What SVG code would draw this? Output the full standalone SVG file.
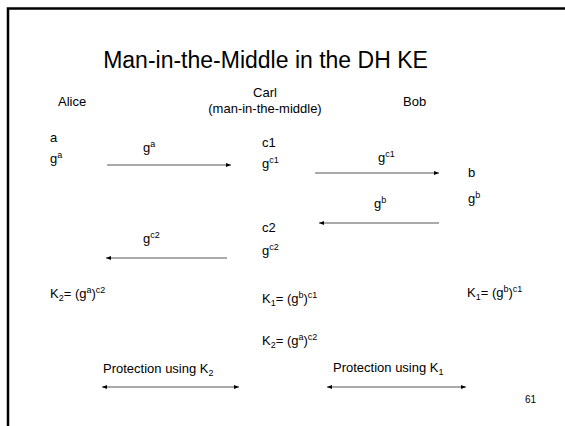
<svg xmlns="http://www.w3.org/2000/svg" width="565" height="426" viewBox="0 0 565 426">
<defs>
<marker id="ah" viewBox="0 0 10 10" refX="10" refY="5" markerWidth="5" markerHeight="5" orient="auto-start-reverse" markerUnits="userSpaceOnUse">
<path d="M0,1 L10,5 L0,9 z" fill="#000"/>
</marker>
</defs>
<style>
text { font-family: "Liberation Sans", Arial, sans-serif; font-size: 13px; fill: #000; }
.title { font-size: 23px; }
.s { font-size: 9px; }
.pg { font-size: 10px; }
.conn line { stroke: #555; stroke-width: 1; fill: none; }
</style>
<rect x="8" y="8.5" width="600" height="460" fill="#fff" stroke="#000" stroke-width="2.5"/>
<text class="title" x="265.5" y="68" text-anchor="middle">Man-in-the-Middle in the DH KE</text>

<g id="alice">
<text x="58" y="106">Alice</text>
<text x="50" y="142">a</text>
<text x="50" y="163">g<tspan class="s" dy="-5">a</tspan></text>
<text x="50" y="298">K<tspan class="s" dy="3">2</tspan><tspan dy="-3">= (g</tspan><tspan class="s" dy="-5">a</tspan><tspan dy="5">)</tspan><tspan class="s" dy="-5">c2</tspan></text>
</g>

<g id="carl">
<text x="265" y="97" text-anchor="middle">Carl</text>
<text x="265" y="113" text-anchor="middle">(man-in-the-middle)</text>
<text x="262" y="147">c1</text>
<text x="262" y="168">g<tspan class="s" dy="-5">c1</tspan></text>
<text x="262" y="232">c2</text>
<text x="262" y="255">g<tspan class="s" dy="-5">c2</tspan></text>
<text x="262" y="303">K<tspan class="s" dy="3">1</tspan><tspan dy="-3">= (g</tspan><tspan class="s" dy="-5">b</tspan><tspan dy="5">)</tspan><tspan class="s" dy="-5">c1</tspan></text>
<text x="262" y="345">K<tspan class="s" dy="3">2</tspan><tspan dy="-3">= (g</tspan><tspan class="s" dy="-5">a</tspan><tspan dy="5">)</tspan><tspan class="s" dy="-5">c2</tspan></text>
</g>

<g id="bob">
<text x="403" y="106">Bob</text>
<text x="468" y="177">b</text>
<text x="468" y="203">g<tspan class="s" dy="-5">b</tspan></text>
<text x="467" y="297">K<tspan class="s" dy="3">1</tspan><tspan dy="-3">= (g</tspan><tspan class="s" dy="-5">b</tspan><tspan dy="5">)</tspan><tspan class="s" dy="-5">c1</tspan></text>
</g>

<g id="labels">
<text x="143" y="152">g<tspan class="s" dy="-5">a</tspan></text>
<text x="378" y="162">g<tspan class="s" dy="-5">c1</tspan></text>
<text x="374" y="208">g<tspan class="s" dy="-5">b</tspan></text>
<text x="143" y="243">g<tspan class="s" dy="-5">c2</tspan></text>
<text x="103" y="373">Protection using K<tspan class="s" dy="3">2</tspan></text>
<text x="333" y="372">Protection using K<tspan class="s" dy="3">1</tspan></text>
<text class="pg" x="525" y="403">61</text>
</g>

<g id="connectors" class="conn">
<line x1="107" y1="165" x2="231" y2="165" marker-end="url(#ah)"/>
<line x1="315" y1="173" x2="439" y2="173" marker-end="url(#ah)"/>
<line x1="439" y1="223" x2="319" y2="223" marker-end="url(#ah)"/>
<line x1="227" y1="258" x2="106" y2="258" marker-end="url(#ah)"/>
<line x1="102" y1="387" x2="239" y2="387" marker-start="url(#ah)" marker-end="url(#ah)"/>
<line x1="327" y1="387" x2="466" y2="387" marker-start="url(#ah)" marker-end="url(#ah)"/>
</g>
</svg>
